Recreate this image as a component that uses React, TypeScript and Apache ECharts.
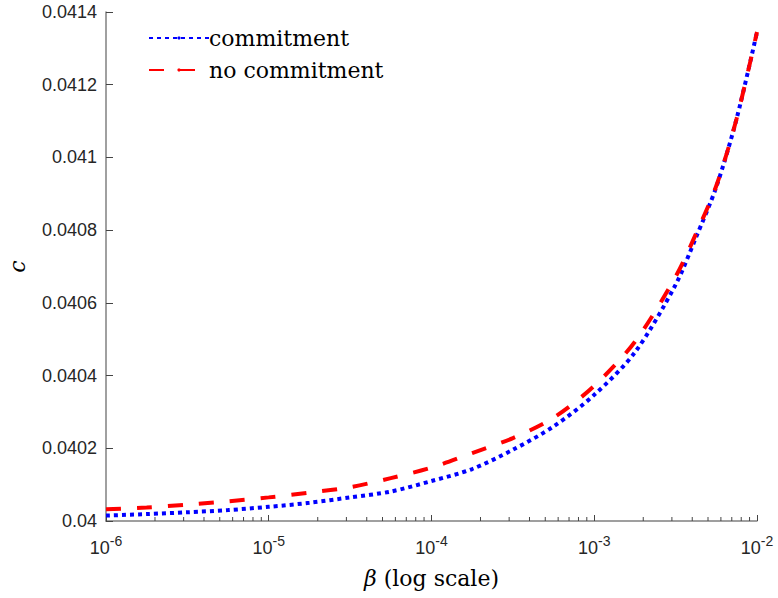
import { useEffect, useRef } from "react";
import * as echarts from "echarts";

// log10(beta) sample positions
const logBeta = [-6, -5.75, -5.5, -5.25, -5, -4.75, -4.5, -4.25, -4, -3.75, -3.5, -3.25, -3, -2.75, -2.5, -2.375, -2.25, -2.125, -2];
const commitment = [0.040015, 0.040019, 0.040024, 0.04003, 0.040039, 0.04005, 0.040065, 0.040081, 0.04011, 0.040143, 0.040196, 0.04026, 0.040347, 0.040464, 0.04065, 0.04078, 0.040919, 0.041107, 0.041345];
const noCommitment = [0.040032, 0.040037, 0.040045, 0.040054, 0.040065, 0.040078, 0.040093, 0.040118, 0.040147, 0.040187, 0.040228, 0.040284, 0.040372, 0.040493, 0.040672, 0.04079, 0.040922, 0.041107, 0.041345];

const seriesNames = ["commitment", "no commitment"];
const xTitleSymbol = "β";
const xTitleRest = " (log scale)";
const yTitle = "c";
const decades = [-6, -5, -4, -3];
const minorMultipliers = [2, 3, 4, 5, 6, 7, 8, 9];
const yMin = 0.04;
const yMax = 0.0414;
const yStep = 0.0002;

const AXIS = "#808080";
const TEXT = "#262626";
const SERIF = "DejaVu Serif";
const SANS = "Liberation Sans";

export default function App() {
  const ref = useRef<HTMLDivElement>(null);
  useEffect(() => {
    if (!ref.current) return;
    const chart = echarts.init(ref.current, null, { renderer: "svg" });
    const betas = logBeta.map((l) => Math.pow(10, l));
    const minorTicks: number[][] = [];
    decades.forEach((d) =>
      minorMultipliers.forEach((m) => minorTicks.push([m * Math.pow(10, d), yMin]))
    );
    chart.setOption({
      animation: false,
      backgroundColor: "#ffffff",
      grid: { left: 106, right: 21, top: 12, bottom: 77, outerBoundsMode: "none" },
      legend: {
        data: seriesNames,
        orient: "vertical",
        left: 148,
        top: 27,
        padding: 0,
        itemWidth: 60,
        itemHeight: 4,
        itemGap: 10,
        textStyle: { fontFamily: SERIF, fontSize: 22, color: "#000", padding: [0, 0, 0, -5] },
      },
      graphic: [
        {
          type: "text",
          x: 431.5,
          y: 578,
          silent: true,
          style: {
            text: `{i|${xTitleSymbol}}{n|${xTitleRest}}`,
            align: "center",
            verticalAlign: "middle",
            fill: "#000",
            fontFamily: SERIF,
            fontSize: 22,
            rich: {
              i: { fontFamily: SERIF, fontStyle: "italic", fontSize: 22, fill: "#000" },
              n: { fontFamily: SERIF, fontSize: 22, fill: "#000" },
            },
          },
        },
      ],
      xAxis: {
        type: "log",
        logBase: 10,
        min: 1e-6,
        max: 1e-2,
        interval: 1,
        splitNumber: 4,
        axisLine: { show: true, lineStyle: { color: AXIS, width: 1.5 } },
        axisTick: { show: true, inside: true, length: 6, lineStyle: { color: "#444", width: 1 } },
        minorTick: { show: false },
        splitLine: { show: false },
        axisLabel: {
          margin: 13,
          formatter: (v: number) => `{b|10}{s|${Math.round(Math.log10(v))}}`,
          rich: {
            b: { fontSize: 18, fontFamily: SANS, color: TEXT, verticalAlign: "bottom" },
            s: { fontSize: 14, fontFamily: SANS, color: TEXT, verticalAlign: "bottom", padding: [0, 0, 9, 0] },
          },
        },
      },
      yAxis: {
        type: "value",
        min: yMin,
        max: yMax,
        interval: yStep,
        axisLine: { show: true, lineStyle: { color: AXIS, width: 1.5 } },
        axisTick: { show: true, inside: true, length: 7, lineStyle: { color: "#444", width: 1 } },
        splitLine: { show: false },
        axisLabel: {
          margin: 9,
          fontSize: 18,
          fontFamily: SANS,
          color: TEXT,
          formatter: (v: number) => String(+v.toFixed(4)),
        },
        name: yTitle,
        nameLocation: "middle",
        nameRotate: 90,
        nameGap: 78,
        nameTextStyle: { fontFamily: SERIF, fontStyle: "italic", fontSize: 22, color: "#000" },
      },
      series: [
        {
          name: seriesNames[0],
          type: "line",
          data: betas.map((b, i) => [b, commitment[i]]),
          showSymbol: false,
          symbol: "none",
          smooth: 0.3,
          lineStyle: { color: "#0000ff", width: 4, type: [4, 4], cap: "butt" },
          itemStyle: { color: "#0000ff" },
        },
        {
          name: seriesNames[1],
          type: "line",
          data: betas.map((b, i) => [b, noCommitment[i]]),
          showSymbol: false,
          symbol: "none",
          smooth: 0.3,
          lineStyle: { color: "#ff0000", width: 4, type: [15, 16], cap: "butt" },
          itemStyle: { color: "#ff0000" },
        },
        {
          name: "minorTicks",
          type: "custom",
          coordinateSystem: "cartesian2d",
          silent: true,
          data: minorTicks,
          renderItem: (_p: any, api: any) => {
            const pt = api.coord([api.value(0), api.value(1)]);
            return {
              type: "line",
              shape: { x1: pt[0], y1: pt[1], x2: pt[0], y2: pt[1] - 4 },
              style: { stroke: "#444", lineWidth: 1 },
            };
          },
        },
      ],
    });
    return () => chart.dispose();
  }, []);
  return <div ref={ref} style={{ width: 778, height: 598, position: "absolute", left: 0, top: 0 }} />;
}
